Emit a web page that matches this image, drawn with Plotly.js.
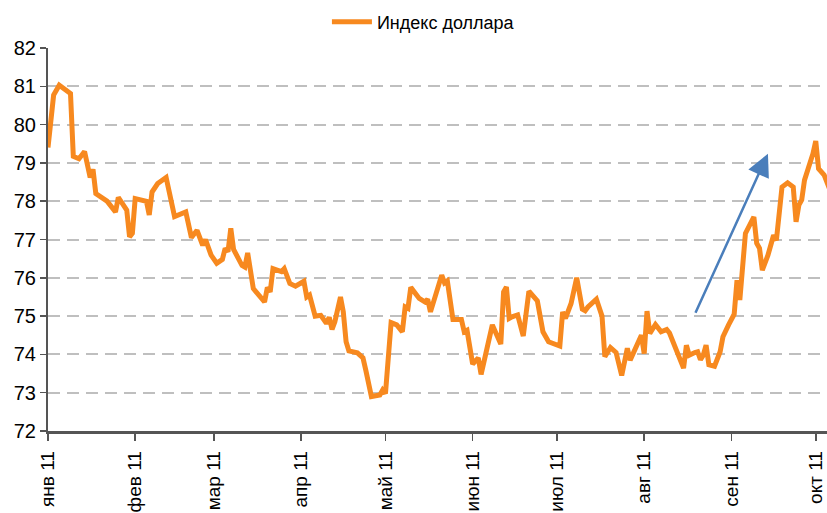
<!DOCTYPE html>
<html>
<head>
<meta charset="utf-8">
<script src="https://cdn.plot.ly/plotly-3.0.1.min.js"></script>
<style>html,body{margin:0;padding:0;background:#fff;}#chart{width:827px;height:513px;}</style>
</head>
<body>
<div id="chart"></div>
<script>
const seriesName = "Индекс доллара";
const dates = [
"2011-01-01","2011-01-03","2011-01-05","2011-01-09","2011-01-10","2011-01-12","2011-01-14","2011-01-16","2011-01-17","2011-01-18",
"2011-01-22","2011-01-25","2011-01-26","2011-01-29","2011-01-30","2011-01-31","2011-02-01","2011-02-05","2011-02-06","2011-02-07",
"2011-02-09","2011-02-12","2011-02-15","2011-02-19","2011-02-21","2011-02-23","2011-02-25","2011-02-26","2011-02-28","2011-03-02",
"2011-03-04","2011-03-05","2011-03-06","2011-03-07","2011-03-08","2011-03-11","2011-03-12","2011-03-13","2011-03-15","2011-03-19",
"2011-03-20","2011-03-21","2011-03-22","2011-03-25","2011-03-26","2011-03-28","2011-03-30","2011-04-02","2011-04-03","2011-04-04",
"2011-04-06","2011-04-08","2011-04-10","2011-04-11","2011-04-12","2011-04-13","2011-04-15","2011-04-16","2011-04-17","2011-04-18",
"2011-04-21","2011-04-23","2011-04-24","2011-04-26","2011-04-29","2011-04-30","2011-05-01","2011-05-03","2011-05-05","2011-05-07",
"2011-05-08","2011-05-09","2011-05-10","2011-05-13","2011-05-15","2011-05-16","2011-05-17","2011-05-19","2011-05-21","2011-05-22",
"2011-05-23","2011-05-25","2011-05-28","2011-05-29","2011-05-30","2011-06-01","2011-06-03","2011-06-04","2011-06-06","2011-06-08",
"2011-06-11","2011-06-12","2011-06-13","2011-06-14","2011-06-15","2011-06-17","2011-06-19","2011-06-20","2011-06-21","2011-06-24",
"2011-06-26","2011-06-28","2011-06-30","2011-07-02","2011-07-03","2011-07-04","2011-07-06","2011-07-08","2011-07-10","2011-07-11",
"2011-07-12","2011-07-15","2011-07-17","2011-07-18","2011-07-20","2011-07-22","2011-07-24","2011-07-26","2011-07-27","2011-07-30",
"2011-07-31","2011-08-01","2011-08-02","2011-08-03","2011-08-05","2011-08-07","2011-08-09","2011-08-10","2011-08-13","2011-08-14",
"2011-08-15","2011-08-16","2011-08-17","2011-08-19","2011-08-20","2011-08-21","2011-08-22","2011-08-23","2011-08-24","2011-08-26",
"2011-08-27","2011-08-28","2011-08-29","2011-08-30","2011-08-31","2011-09-02","2011-09-03","2011-09-04","2011-09-06","2011-09-09",
"2011-09-10","2011-09-11","2011-09-12","2011-09-14","2011-09-16","2011-09-17","2011-09-19","2011-09-21","2011-09-23","2011-09-24",
"2011-09-25","2011-09-26","2011-09-27","2011-09-30","2011-10-01","2011-10-02","2011-10-04","2011-10-06"
];
const dollarIndex = [
79.40,80.77,81.03,80.81,79.17,79.11,79.30,78.62,78.83,78.20,
78.00,77.72,78.10,77.77,77.07,77.16,78.07,78.00,77.64,78.24,
78.46,78.62,77.60,77.72,77.05,77.24,76.85,77.00,76.59,76.38,
76.48,76.77,76.68,77.29,76.74,76.32,76.28,76.65,75.72,75.37,
75.75,75.63,76.24,76.16,76.24,75.85,75.78,75.91,75.50,75.55,
75.00,75.02,74.81,74.97,74.65,74.85,75.50,75.11,74.33,74.09,
74.04,73.91,73.59,72.90,72.94,73.07,72.98,74.83,74.77,74.59,
75.24,75.20,75.75,75.46,75.37,75.44,75.11,75.55,76.07,75.87,
75.92,74.91,74.91,74.59,74.63,73.75,73.91,73.48,74.16,74.77,
74.27,75.63,75.76,74.94,74.98,75.03,74.48,75.20,75.65,75.40,
74.59,74.33,74.29,74.22,75.11,74.94,75.33,76.00,75.18,75.14,
75.24,75.44,75.00,73.94,74.18,74.05,73.45,74.16,73.85,74.37,
74.50,74.02,75.13,74.55,74.78,74.59,74.65,74.56,73.96,73.81,
73.64,74.24,73.98,74.05,74.07,73.86,73.98,74.24,73.73,73.69,
73.87,74.07,74.46,74.59,74.77,75.05,75.94,75.42,77.16,77.59,
76.90,76.77,76.20,76.59,77.11,76.98,78.37,78.48,78.37,77.46,
77.90,78.03,78.55,79.24,79.57,78.85,78.68,78.30
];
const tickDates = ["2011-01-01","2011-02-01","2011-03-01","2011-04-01","2011-05-01","2011-06-01","2011-07-01","2011-08-01","2011-09-01","2011-10-01"];
const tickLabels = ["янв 11","фев 11","мар 11","апр 11","май 11","июн 11","июл 11","авг 11","сен 11","окт 11"];
const xRange = ["2011-01-01","2011-10-05"];
const yRange = [72, 82];
const arrowStart = ["2011-08-19", 75.05];
const arrowEnd = ["2011-09-14", 79.24];

const trace = {
  x: dates, y: dollarIndex, type: "scatter", mode: "lines", name: seriesName,
  line: {color: "#F7891F", width: 5}
};
const layout = {
  width: 827, height: 513,
  margin: {l: 48, r: 0, t: 48, b: 82, autoexpand: false},
  paper_bgcolor: "#fff", plot_bgcolor: "#fff",
  font: {family: "Liberation Sans, Arial, sans-serif", color: "#000"},
  showlegend: true,
  legend: {orientation: "h", x: 0.512, xanchor: "center", xref: "container",
           y: 0.957, yanchor: "middle", yref: "container",
           font: {size: 18, color: "#000"}, itemwidth: 40},
  xaxis: {
    type: "date", range: xRange, tickvals: tickDates, ticktext: tickLabels,
    tickangle: -90, ticks: "outside", ticklen: 7, tickwidth: 1.5, tickcolor: "#555",
    showline: true, linecolor: "#555", linewidth: 2.5, showgrid: false, zeroline: false,
    tickfont: {size: 19, color: "#000"}, ticklabelstandoff: 3, automargin: false
  },
  yaxis: {
    range: yRange, dtick: 1, ticks: "outside", ticklen: 6, tickwidth: 1.5, tickcolor: "#555",
    showline: true, linecolor: "#555", linewidth: 2, zeroline: false,
    showgrid: true, gridcolor: "#BFBFBF", gridwidth: 2, griddash: "12px,7px",
    tickfont: {size: 20, color: "#000"}, automargin: false
  },
  annotations: [{
    x: arrowEnd[0], y: arrowEnd[1], ax: arrowStart[0], ay: arrowStart[1],
    xref: "x", yref: "y", axref: "x", ayref: "y",
    showarrow: true, arrowhead: 2, arrowsize: 1.8, arrowwidth: 2.5, arrowcolor: "#4A7EBB", text: ""
  }]
};
Plotly.newPlot("chart", [trace], layout, {displayModeBar: false, staticPlot: true});
</script>
</body>
</html>
